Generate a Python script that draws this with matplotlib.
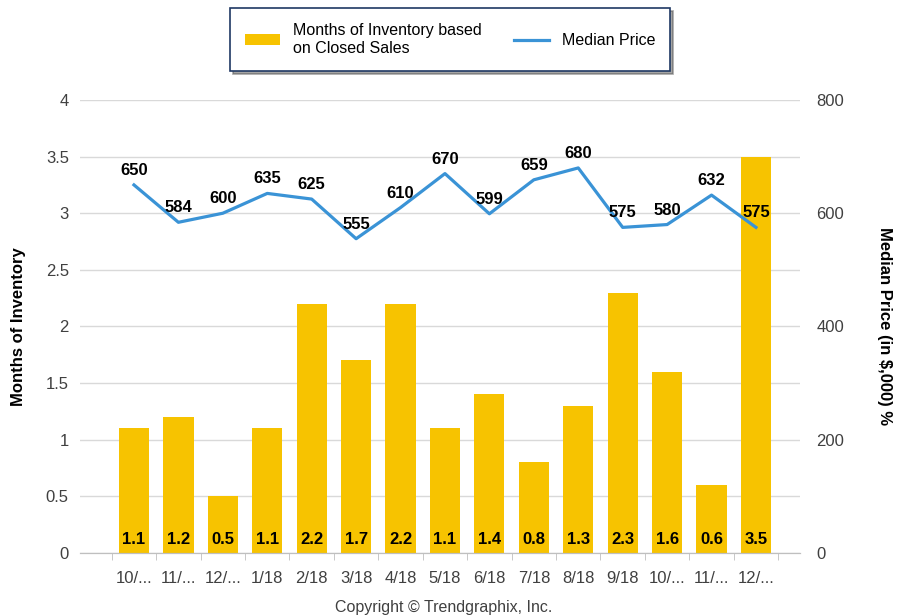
import matplotlib.pyplot as plt
import numpy as np

# ## Data
months = ["10/...", "11/...", "12/...", "1/18", "2/18", "3/18", "4/18", "5/18",
          "6/18", "7/18", "8/18", "9/18", "10/...", "11/...", "12/..."]
inventory = [1.1, 1.2, 0.5, 1.1, 2.2, 1.7, 2.2, 1.1, 1.4, 0.8, 1.3, 2.3, 1.6, 0.6, 3.5]
median_price = [650, 584, 600, 635, 625, 555, 610, 670, 599, 659, 680, 575, 580, 632, 575]

bar_color = "#F7C300"
line_color = "#3A93D6"
text_color = "#404040"

plt.rcParams["font.family"] = ["Liberation Sans", "DejaVu Sans"]

fig = plt.figure(figsize=(9.11, 6.16), dpi=100)
ax = fig.add_axes([0.0878, 0.1023, 0.7903, 0.7354])
ax2 = ax.twinx()

x = np.arange(len(months))

# bars with value labels at the bottom
bars = ax.bar(x, inventory, width=0.68, color=bar_color, zorder=2,
              label="Months of Inventory based\non Closed Sales")
for xi, v in zip(x, inventory):
    ax.text(xi, 0.05, f"{v:.1f}", ha="center", va="bottom", fontsize=12,
            fontweight="bold", color="black", zorder=3)

# median price line with labels
line, = ax2.plot(x, median_price, color=line_color, lw=2.3, zorder=4,
                 label="Median Price")
for xi, v in zip(x, median_price):
    ax2.annotate(str(v), (xi, v), xytext=(0, 5), textcoords="offset points",
                 ha="center", va="bottom", fontsize=12, fontweight="bold",
                 color="black", zorder=5)

# axes setup
ax.set_xlim(-1.215, 14.99)
ax.set_ylim(0, 4)
ax2.set_ylim(0, 800)
ax.set_yticks(np.arange(0, 4.01, 0.5))
ax.set_yticklabels(["0", "0.5", "1", "1.5", "2", "2.5", "3", "3.5", "4"])
ax2.set_yticks([0, 200, 400, 600, 800])
ax.grid(axis="y", color="#D9D9D9", lw=1, zorder=0)
ax.set_axisbelow(True)

ax.set_xticks(x)
ax.set_xticklabels(months)
ax.set_xticks(np.arange(-0.5, 15, 1), minor=True)
ax.tick_params(axis="x", which="major", length=0, pad=13, labelsize=12,
               labelcolor=text_color)
ax.tick_params(axis="x", which="minor", length=5, color="#BFBFBF")
ax.tick_params(axis="y", length=0, pad=8, labelsize=12, labelcolor=text_color)
ax2.tick_params(axis="y", length=0, pad=12, labelsize=12, labelcolor=text_color)

for a in (ax, ax2):
    for s in ("top", "left", "right"):
        a.spines[s].set_visible(False)
    a.spines["bottom"].set_color("#BFBFBF")

ax.set_ylabel("Months of Inventory", fontsize=12, fontweight="bold", labelpad=14)
ax2.set_ylabel("Median Price (in $,000) %", fontsize=12, fontweight="bold",
               rotation=-90, labelpad=34)

leg = fig.legend(handles=[bars, line], loc="upper center",
                 bbox_to_anchor=(0.494, 0.987), borderaxespad=0, ncol=2,
                 frameon=True, fancybox=False, shadow=True, fontsize=11.5,
                 handlelength=2.2, columnspacing=2.0, borderpad=0.95)
leg.get_frame().set_edgecolor("#1F3864")
leg.get_frame().set_linewidth(1.2)

fig.text(0.487, 0.002, "Copyright © Trendgraphix, Inc.", ha="center",
         va="bottom", fontsize=11.5, color=text_color)

fig.savefig("out.png", dpi=100)
